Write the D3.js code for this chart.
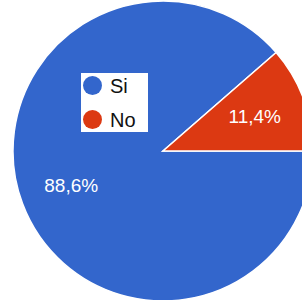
<!DOCTYPE html>
<html>
<head>
<meta charset="utf-8">
<script src="https://cdn.jsdelivr.net/npm/d3@7"></script>
<style>
  html, body { margin: 0; padding: 0; background: #fff; overflow: hidden; }
</style>
</head>
<body>
<svg id="pie" width="302" height="300"></svg>
<script>
// chart data
let labels = ["Si", "No"];
let values = [88.6, 11.4];
let valueText = ["88,6%", "11,4%"];
let colors = ["#3366cc", "#dc3912"];

let svg = d3.select("#pie");
let cx = 163, cy = 151, radius = 150;

// pie starts at 3 o'clock and runs clockwise
let pie = d3.pie()
  .sort(null)
  .startAngle(Math.PI / 2)
  .endAngle(Math.PI / 2 + 2 * Math.PI);

let arcGen = d3.arc().innerRadius(0).outerRadius(radius);
let labelArc = d3.arc().innerRadius(98).outerRadius(98);

let g = svg.append("g").attr("transform", `translate(${cx},${cy})`);
let slices = pie(values);

g.selectAll("path.slice")
  .data(slices)
  .join("path")
  .attr("class", "slice")
  .attr("d", arcGen)
  .attr("fill", (d, i) => colors[i])
  .attr("stroke", "#fff")
  .attr("stroke-width", 1.5);

g.selectAll("text.pct")
  .data(slices)
  .join("text")
  .attr("class", "pct")
  .attr("transform", d => `translate(${labelArc.centroid(d)})`)
  .attr("text-anchor", "middle")
  .attr("dy", "0.36em")
  .attr("fill", "#fff")
  .attr("font-family", "Liberation Sans, Arial, sans-serif")
  .attr("font-size", 19)
  .text((d, i) => valueText[i]);

// legend box
let legend = svg.append("g").attr("transform", "translate(81,73)");
legend.append("rect")
  .attr("width", 67)
  .attr("height", 59)
  .attr("fill", "#fff");

let items = legend.selectAll("g.item")
  .data(labels)
  .join("g")
  .attr("class", "item")
  .attr("transform", (d, i) => `translate(0,${12.5 + i * 34})`);

items.append("circle")
  .attr("cx", 11.5)
  .attr("cy", 0)
  .attr("r", 9.5)
  .attr("fill", (d, i) => colors[i]);

items.append("text")
  .attr("x", 29)
  .attr("y", 0)
  .attr("dy", "0.36em")
  .attr("fill", "#111")
  .attr("font-family", "Liberation Sans, Arial, sans-serif")
  .attr("font-size", 20)
  .text(d => d);
</script>
</body>
</html>
